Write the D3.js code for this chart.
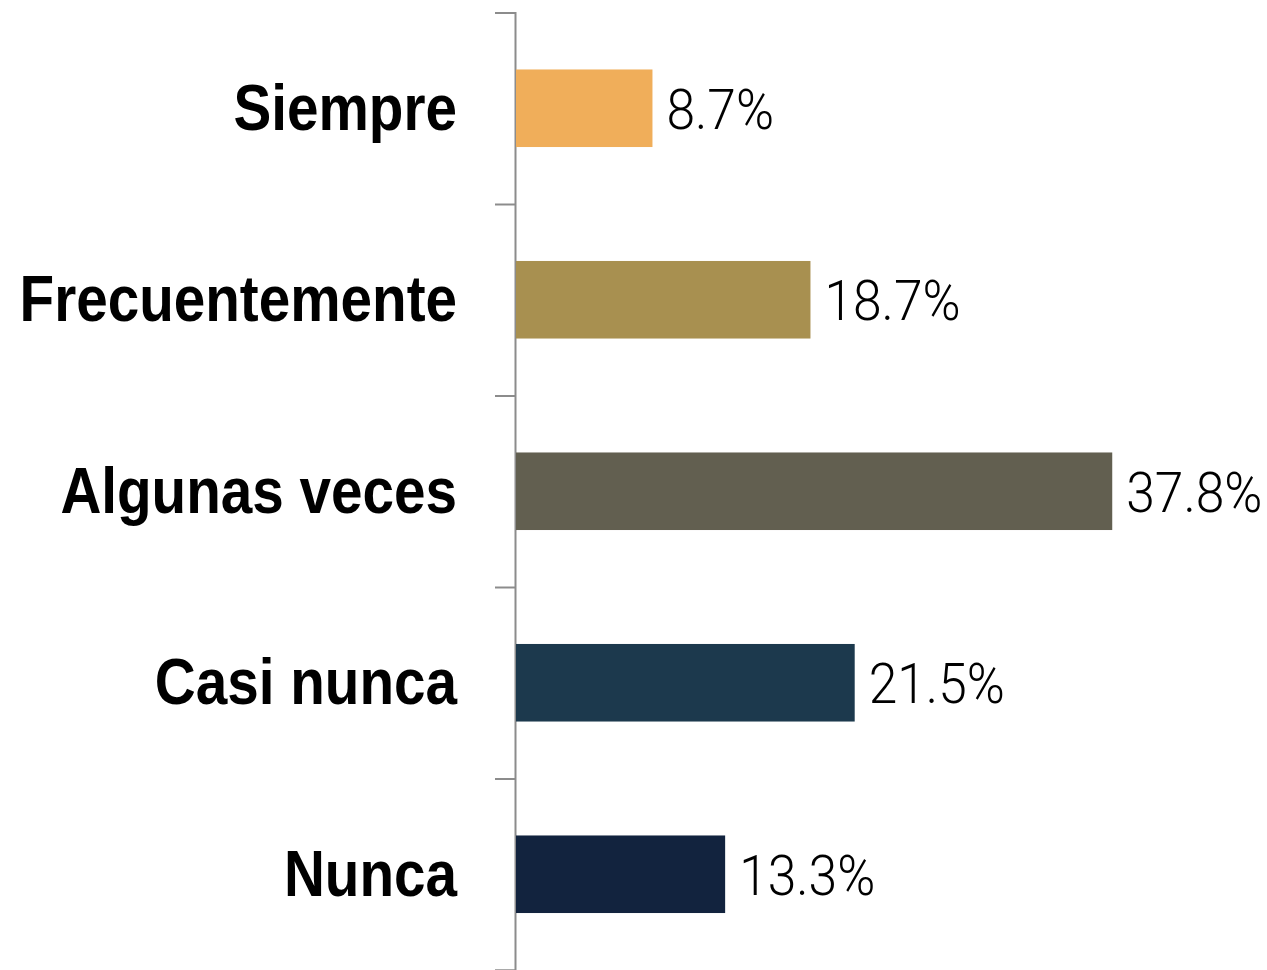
<!DOCTYPE html>
<html lang="es">
<head>
    <meta charset="UTF-8">
    <title>Frecuencia</title>
    <style>
        html, body {
            margin: 0;
            padding: 0;
            background: #fff;
        }
        .cat {
            font-family: "Liberation Sans", Arial, sans-serif;
            font-weight: bold;
            font-size: 64px;
            fill: #000;
        }
        .val {
            font-family: Roboto, "Liberation Sans", sans-serif;
            font-weight: 300;
            font-size: 56px;
            fill: #000;
        }
    </style>
</head>
<body>
<svg id="chart"></svg>
<script src="https://cdnjs.cloudflare.com/ajax/libs/d3/7.8.5/d3.min.js"></script>
<script>
    "use strict"

    const categories = ["Siempre", "Frecuentemente", "Algunas veces", "Casi nunca", "Nunca"];
    const values = [8.7, 18.7, 37.8, 21.5, 13.3];
    const valueLabels = ["8.7%", "18.7%", "37.8%", "21.5%", "13.3%"];
    const colors = ["#f0ae5a", "#a89050", "#625f50", "#1c394d", "#12233e"];

    const width = 1267, height = 970;
    const x0 = 515, yTop = 12.5, yBottom = 970;
    // no condensed font installed, so squeeze the glyphs horizontally
    const catSqueeze = 0.885, valSqueeze = 0.92;

    const svg = d3.select("#chart")
        .attr("width", width)
        .attr("height", height);

    const y = d3.scaleBand()
        .domain(categories)
        .range([yTop, yBottom])
        .paddingInner(0.595)
        .paddingOuter(0.2975);

    const x = d3.scaleLinear()
        .domain([0, 40])
        .range([x0, x0 + 632]);

    // ticks between the bands
    const yEdges = d3.scaleLinear()
        .domain([0, categories.length])
        .range([yTop, yBottom]);

    svg.append("g")
        .attr("transform", `translate(${x0},0)`)
        .call(d3.axisLeft(yEdges)
            .tickValues(d3.range(categories.length + 1))
            .tickSize(20)
            .tickFormat(""))
        .call(g => g.selectAll("path, line")
            .attr("stroke", "#8c8c8c")
            .attr("stroke-width", 2));

    svg.selectAll("rect.bar")
        .data(categories)
        .enter()
        .append("rect")
        .attr("class", "bar")
        .attr("x", x0 + 1)
        .attr("y", d => y(d))
        .attr("width", (d, i) => x(values[i]) - x0 - 1)
        .attr("height", y.bandwidth())
        .attr("fill", (d, i) => colors[i]);

    svg.selectAll("text.cat")
        .data(categories)
        .enter()
        .append("text")
        .attr("class", "cat")
        .attr("transform", d => `translate(457,${y(d) + y.bandwidth() / 2 + 21.5}) scale(${catSqueeze},1)`)
        .attr("text-anchor", "end")
        .text(d => d);

    svg.selectAll("text.val")
        .data(categories)
        .enter()
        .append("text")
        .attr("class", "val")
        .attr("transform", (d, i) => `translate(${x(values[i]) + 14},${y(d) + y.bandwidth() / 2 + 20.5}) scale(${valSqueeze},1)`)
        .text((d, i) => valueLabels[i]);
</script>
</body>
</html>
